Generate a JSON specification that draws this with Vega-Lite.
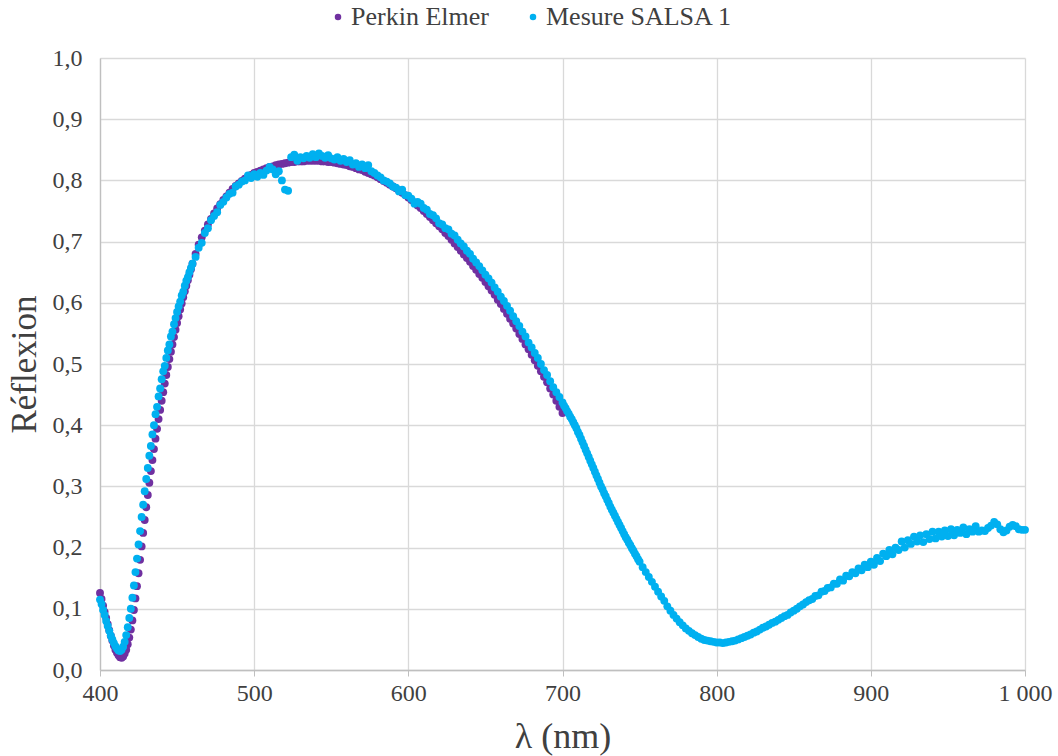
{
  "$schema": "https://vega.github.io/schema/vega-lite/v6.json",
  "width": 925,
  "height": 612,
  "autosize": "none",
  "padding": {"left": 100, "top": 58, "right": 33, "bottom": 86},
  "background": "white",
  "config": {
    "view": {"stroke": null},
    "axis": {"labelColor": "#404040", "titleColor": "#404040", "titleFontWeight": "normal", "gridColor": "#d9d9d9", "gridWidth": 1.3, "domainColor": "#bfbfbf", "domainWidth": 1.3, "tickColor": "#bfbfbf"}
  },
  "data": {"values": [
    {"x":400,"p":0.126,"s":0.115},{"x":401,"p":0.116,"s":0.108},{"x":402,"p":0.105,"s":0.098},{"x":403,"p":0.095,"s":0.09},{"x":404,"p":0.085,"s":0.08},
    {"x":405,"p":0.075,"s":0.072},{"x":406,"p":0.065,"s":0.064},{"x":407,"p":0.056,"s":0.056},{"x":408,"p":0.048,"s":0.05},{"x":409,"p":0.04,"s":0.044},
    {"x":410,"p":0.033,"s":0.039},{"x":411,"p":0.028,"s":0.035},{"x":412,"p":0.024,"s":0.032},{"x":413,"p":0.021,"s":0.031},{"x":414,"p":0.02,"s":0.033},
    {"x":415,"p":0.022,"s":0.038},{"x":416,"p":0.027,"s":0.046},{"x":417,"p":0.033,"s":0.057},{"x":418,"p":0.042,"s":0.07},{"x":419,"p":0.053,"s":0.085},
    {"x":420,"p":0.066,"s":0.1},{"x":421,"p":0.081,"s":0.118},{"x":422,"p":0.098,"s":0.138},{"x":423,"p":0.117,"s":0.16},{"x":424,"p":0.137,"s":0.182},
    {"x":425,"p":0.158,"s":0.205},{"x":426,"p":0.18,"s":0.227},{"x":427,"p":0.202,"s":0.25},{"x":428,"p":0.224,"s":0.27},{"x":429,"p":0.245,"s":0.292},
    {"x":430,"p":0.266,"s":0.312},{"x":431,"p":0.286,"s":0.33},{"x":432,"p":0.306,"s":0.35},{"x":433,"p":0.325,"s":0.366},{"x":434,"p":0.343,"s":0.385},
    {"x":435,"p":0.361,"s":0.4},{"x":436,"p":0.378,"s":0.418},{"x":437,"p":0.394,"s":0.43},{"x":438,"p":0.41,"s":0.447},{"x":439,"p":0.425,"s":0.46},
    {"x":440,"p":0.44,"s":0.475},{"x":441,"p":0.454,"s":0.488},{"x":442,"p":0.468,"s":0.497},{"x":443,"p":0.482,"s":0.51},{"x":444,"p":0.495,"s":0.522},
    {"x":445,"p":0.508,"s":0.532},{"x":446,"p":0.52,"s":0.545},{"x":447,"p":0.532,"s":0.553},{"x":448,"p":0.544,"s":0.565},{"x":449,"p":0.556,"s":0.575},
    {"x":450,"p":0.567,"s":0.585},{"x":451,"p":0.578,"s":0.594},{"x":452,"p":0.589,"s":0.602},{"x":453,"p":0.599,"s":0.612},{"x":454,"p":0.609,"s":0.618},
    {"x":455,"p":0.619,"s":0.628},{"x":456,"p":0.628,"s":0.636},{"x":457,"p":0.637,"s":0.642},{"x":458,"p":0.646,"s":0.65},{"x":459,"p":0.655,"s":0.657},
    {"x":460,"p":0.664,"s":0.664},
    {"x":462,"p":0.68,"s":0.675},{"x":464,"p":0.695,"s":0.69},{"x":466,"p":0.707,"s":0.698},{"x":468,"p":0.718,"s":0.714},{"x":470,"p":0.728,"s":0.722},
    {"x":472,"p":0.737,"s":0.735},{"x":474,"p":0.746,"s":0.742},{"x":476,"p":0.754,"s":0.748},{"x":478,"p":0.761,"s":0.76},{"x":480,"p":0.768,"s":0.765},
    {"x":482,"p":0.774,"s":0.772},{"x":484,"p":0.78,"s":0.778},{"x":486,"p":0.786,"s":0.78},{"x":488,"p":0.791,"s":0.79},{"x":490,"p":0.795,"s":0.793},
    {"x":492,"p":0.799,"s":0.798},{"x":494,"p":0.803,"s":0.8},{"x":496,"p":0.806,"s":0.808},{"x":498,"p":0.809,"s":0.804},{"x":500,"p":0.812,"s":0.81},
    {"x":502,"p":0.814,"s":0.806},{"x":504,"p":0.816,"s":0.812},{"x":506,"p":0.818,"s":0.809},{"x":508,"p":0.82,"s":0.816},{"x":510,"p":0.822,"s":0.822},
    {"x":512,"p":0.823,"s":0.818},{"x":514,"p":0.825,"s":0.81},{"x":516,"p":0.826,"s":0.815},{"x":518,"p":0.827,"s":0.8},{"x":520,"p":0.828,"s":0.785},
    {"x":522,"p":0.829,"s":0.783},{"x":524,"p":0.83,"s":0.838},{"x":526,"p":0.83,"s":0.842},{"x":528,"p":0.831,"s":0.832},{"x":530,"p":0.831,"s":0.838},
    {"x":532,"p":0.831,"s":0.836},{"x":534,"p":0.832,"s":0.84},{"x":536,"p":0.832,"s":0.837},{"x":538,"p":0.832,"s":0.843},{"x":540,"p":0.832,"s":0.838},
    {"x":542,"p":0.832,"s":0.844},{"x":544,"p":0.831,"s":0.84},{"x":546,"p":0.831,"s":0.837},{"x":548,"p":0.83,"s":0.841},{"x":550,"p":0.83,"s":0.836},
    {"x":552,"p":0.829,"s":0.834},{"x":554,"p":0.828,"s":0.838},{"x":556,"p":0.827,"s":0.832},{"x":558,"p":0.826,"s":0.835},{"x":560,"p":0.825,"s":0.83},
    {"x":562,"p":0.823,"s":0.833},{"x":564,"p":0.822,"s":0.826},{"x":566,"p":0.82,"s":0.828},{"x":568,"p":0.818,"s":0.822},{"x":570,"p":0.817,"s":0.826},
    {"x":572,"p":0.814,"s":0.82},{"x":574,"p":0.812,"s":0.825},{"x":576,"p":0.81,"s":0.815},{"x":578,"p":0.808,"s":0.812},{"x":580,"p":0.805,"s":0.808},
    {"x":582,"p":0.802,"s":0.805},{"x":584,"p":0.799,"s":0.8},{"x":586,"p":0.796,"s":0.798},{"x":588,"p":0.793,"s":0.795},{"x":590,"p":0.79,"s":0.79},
    {"x":592,"p":0.787,"s":0.788},{"x":594,"p":0.783,"s":0.782},{"x":596,"p":0.78,"s":0.785},{"x":598,"p":0.776,"s":0.776},{"x":600,"p":0.772,"s":0.775},
    {"x":602,"p":0.768,"s":0.77},{"x":604,"p":0.764,"s":0.762},{"x":606,"p":0.759,"s":0.765},{"x":608,"p":0.755,"s":0.762},{"x":610,"p":0.75,"s":0.755},
    {"x":612,"p":0.745,"s":0.752},{"x":614,"p":0.74,"s":0.745},{"x":616,"p":0.735,"s":0.743},{"x":618,"p":0.73,"s":0.738},{"x":620,"p":0.725,"s":0.73},
    {"x":622,"p":0.72,"s":0.728},{"x":624,"p":0.714,"s":0.722},{"x":626,"p":0.709,"s":0.72},{"x":628,"p":0.703,"s":0.713},{"x":630,"p":0.697,"s":0.71},
    {"x":632,"p":0.691,"s":0.703},{"x":634,"p":0.685,"s":0.697},{"x":636,"p":0.679,"s":0.692},{"x":638,"p":0.673,"s":0.685},{"x":640,"p":0.667,"s":0.68},
    {"x":642,"p":0.66,"s":0.672},{"x":644,"p":0.654,"s":0.666},{"x":646,"p":0.647,"s":0.66},{"x":648,"p":0.641,"s":0.653},{"x":650,"p":0.634,"s":0.646},
    {"x":652,"p":0.627,"s":0.64},{"x":654,"p":0.62,"s":0.633},{"x":656,"p":0.613,"s":0.625},{"x":658,"p":0.605,"s":0.618},{"x":660,"p":0.598,"s":0.61},
    {"x":662,"p":0.59,"s":0.603},{"x":664,"p":0.582,"s":0.595},{"x":666,"p":0.574,"s":0.587},{"x":668,"p":0.566,"s":0.578},{"x":670,"p":0.558,"s":0.57},
    {"x":672,"p":0.549,"s":0.562},{"x":674,"p":0.541,"s":0.553},{"x":676,"p":0.532,"s":0.545},{"x":678,"p":0.524,"s":0.535},{"x":680,"p":0.515,"s":0.527},
    {"x":682,"p":0.506,"s":0.518},{"x":684,"p":0.497,"s":0.51},{"x":686,"p":0.488,"s":0.5},{"x":688,"p":0.479,"s":0.49},{"x":690,"p":0.47,"s":0.482},
    {"x":692,"p":0.46,"s":0.472},{"x":694,"p":0.45,"s":0.462},{"x":696,"p":0.44,"s":0.454},{"x":698,"p":0.43,"s":0.446},{"x":700,"p":0.42,"s":0.437},
    {"x":701,"s":0.432},{"x":702,"s":0.428},{"x":703,"s":0.423},{"x":704,"s":0.419},{"x":705,"s":0.414},{"x":706,"s":0.41},{"x":707,"s":0.405},{"x":708,"s":0.4},{"x":709,"s":0.395},{"x":710,"s":0.389},
    {"x":711,"s":0.384},{"x":712,"s":0.378},{"x":713,"s":0.372},{"x":714,"s":0.366},{"x":715,"s":0.36},{"x":716,"s":0.354},{"x":717,"s":0.348},{"x":718,"s":0.342},{"x":719,"s":0.336},{"x":720,"s":0.33},
    {"x":721,"s":0.324},{"x":722,"s":0.318},{"x":723,"s":0.312},{"x":724,"s":0.306},{"x":725,"s":0.3},{"x":726,"s":0.295},{"x":727,"s":0.289},{"x":728,"s":0.284},{"x":729,"s":0.278},{"x":730,"s":0.273},
    {"x":731,"s":0.267},{"x":732,"s":0.262},{"x":733,"s":0.257},{"x":734,"s":0.252},{"x":735,"s":0.247},{"x":736,"s":0.242},{"x":737,"s":0.237},{"x":738,"s":0.232},{"x":739,"s":0.227},{"x":740,"s":0.222},
    {"x":741,"s":0.217},{"x":742,"s":0.213},{"x":743,"s":0.208},{"x":744,"s":0.204},{"x":745,"s":0.199},{"x":746,"s":0.195},{"x":747,"s":0.19},{"x":748,"s":0.186},{"x":749,"s":0.181},{"x":750,"s":0.177},
    {"x":752,"s":0.168},{"x":754,"s":0.16},{"x":756,"s":0.152},{"x":758,"s":0.144},{"x":760,"s":0.136},
    {"x":762,"s":0.128},{"x":764,"s":0.12},{"x":766,"s":0.113},{"x":768,"s":0.104},{"x":770,"s":0.097},
    {"x":772,"s":0.09},{"x":774,"s":0.084},{"x":776,"s":0.078},{"x":778,"s":0.073},{"x":780,"s":0.068},
    {"x":782,"s":0.064},{"x":784,"s":0.06},{"x":786,"s":0.057},{"x":788,"s":0.054},{"x":790,"s":0.051},
    {"x":792,"s":0.049},{"x":794,"s":0.048},{"x":796,"s":0.047},{"x":798,"s":0.046},{"x":800,"s":0.045},
    {"x":802,"s":0.045},{"x":804,"s":0.044},{"x":806,"s":0.045},{"x":808,"s":0.046},{"x":810,"s":0.047},
    {"x":812,"s":0.048},{"x":814,"s":0.05},{"x":816,"s":0.052},{"x":818,"s":0.054},{"x":820,"s":0.056},
    {"x":822,"s":0.058},{"x":824,"s":0.061},{"x":826,"s":0.063},{"x":828,"s":0.066},{"x":830,"s":0.069},
    {"x":832,"s":0.071},{"x":834,"s":0.074},{"x":836,"s":0.077},{"x":838,"s":0.079},{"x":840,"s":0.082},
    {"x":842,"s":0.085},{"x":844,"s":0.088},{"x":846,"s":0.09},{"x":848,"s":0.094},{"x":850,"s":0.097},
    {"x":852,"s":0.1},{"x":854,"s":0.104},{"x":856,"s":0.107},{"x":858,"s":0.111},{"x":860,"s":0.114},
    {"x":862,"s":0.116},{"x":864,"s":0.121},{"x":866,"s":0.122},{"x":868,"s":0.128},{"x":870,"s":0.129},
    {"x":872,"s":0.134},{"x":874,"s":0.135},{"x":876,"s":0.141},{"x":878,"s":0.141},{"x":880,"s":0.148},
    {"x":882,"s":0.146},{"x":884,"s":0.154},{"x":886,"s":0.153},{"x":888,"s":0.16},{"x":890,"s":0.158},
    {"x":892,"s":0.166},{"x":894,"s":0.163},{"x":896,"s":0.172},{"x":898,"s":0.168},{"x":900,"s":0.177},
    {"x":902,"s":0.172},{"x":904,"s":0.183},{"x":906,"s":0.178},{"x":908,"s":0.19},{"x":910,"s":0.186},
    {"x":912,"s":0.196},{"x":914,"s":0.189},{"x":916,"s":0.2},{"x":918,"s":0.196},{"x":920,"s":0.21},
    {"x":922,"s":0.2},{"x":924,"s":0.212},{"x":926,"s":0.206},{"x":928,"s":0.218},{"x":930,"s":0.21},
    {"x":932,"s":0.22},{"x":934,"s":0.209},{"x":936,"s":0.222},{"x":938,"s":0.214},{"x":940,"s":0.226},
    {"x":942,"s":0.215},{"x":944,"s":0.226},{"x":946,"s":0.218},{"x":948,"s":0.228},{"x":950,"s":0.219},
    {"x":952,"s":0.23},{"x":954,"s":0.22},{"x":956,"s":0.229},{"x":958,"s":0.224},{"x":960,"s":0.233},
    {"x":962,"s":0.222},{"x":964,"s":0.23},{"x":966,"s":0.226},{"x":968,"s":0.235},{"x":970,"s":0.226},
    {"x":972,"s":0.228},{"x":974,"s":0.227},{"x":976,"s":0.232},{"x":978,"s":0.236},{"x":980,"s":0.242},
    {"x":982,"s":0.238},{"x":984,"s":0.23},{"x":986,"s":0.225},{"x":988,"s":0.228},{"x":990,"s":0.234},
    {"x":992,"s":0.237},{"x":994,"s":0.235},{"x":996,"s":0.23},{"x":998,"s":0.229},{"x":1000,"s":0.229}
  ]},
  "transform": [
    {"fold": ["p", "s"], "as": ["k", "y"]},
    {"filter": "isValid(datum.y)"}
  ],
  "mark": {"type": "point", "filled": true, "size": 62, "opacity": 1},
  "encoding": {
    "x": {"field": "x", "type": "quantitative",
      "scale": {"domain": [400, 1000], "nice": false, "zero": false},
      "axis": {"values": [400, 500, 600, 700, 800, 900, 1000], "title": "λ (nm)", "titleFont": "Liberation Serif", "labelFont": "Liberation Serif", "titleFontSize": 36, "titlePadding": 14, "labelFontSize": 24, "labelPadding": 5, "labelFlush": false, "tickSize": 6, "labelExpr": "replace(format(datum.value, ','), ',', ' ')"}},
    "y": {"field": "y", "type": "quantitative",
      "scale": {"domain": [0, 1], "nice": false},
      "axis": {"values": [0, 0.1, 0.2, 0.3, 0.4, 0.5, 0.6, 0.7, 0.8, 0.9, 1], "title": "Réflexion", "titleFont": "Liberation Serif", "labelFont": "Liberation Serif", "titleFontSize": 35, "titlePadding": 10, "labelFontSize": 24, "labelPadding": 18, "ticks": false, "labelExpr": "replace(format(datum.value, '.1f'), '.', ',')"}},
    "color": {"field": "k", "type": "nominal",
      "scale": {"domain": ["p", "s"], "range": ["#7030A0", "#00B0F0"]},
      "legend": {"title": null, "labelFont": "Liberation Serif", "orient": "none", "direction": "horizontal", "legendX": 225, "legendY": -54, "labelFontSize": 26, "labelLimit": 400, "labelColor": "#404040", "symbolType": "circle", "symbolSize": 42, "columnPadding": 31, "labelOffset": 0, "labelExpr": "datum.label == 'p' ? 'Perkin Elmer' : 'Mesure SALSA 1'"}},
    "order": {"field": "k", "sort": "ascending"}
  }
}
